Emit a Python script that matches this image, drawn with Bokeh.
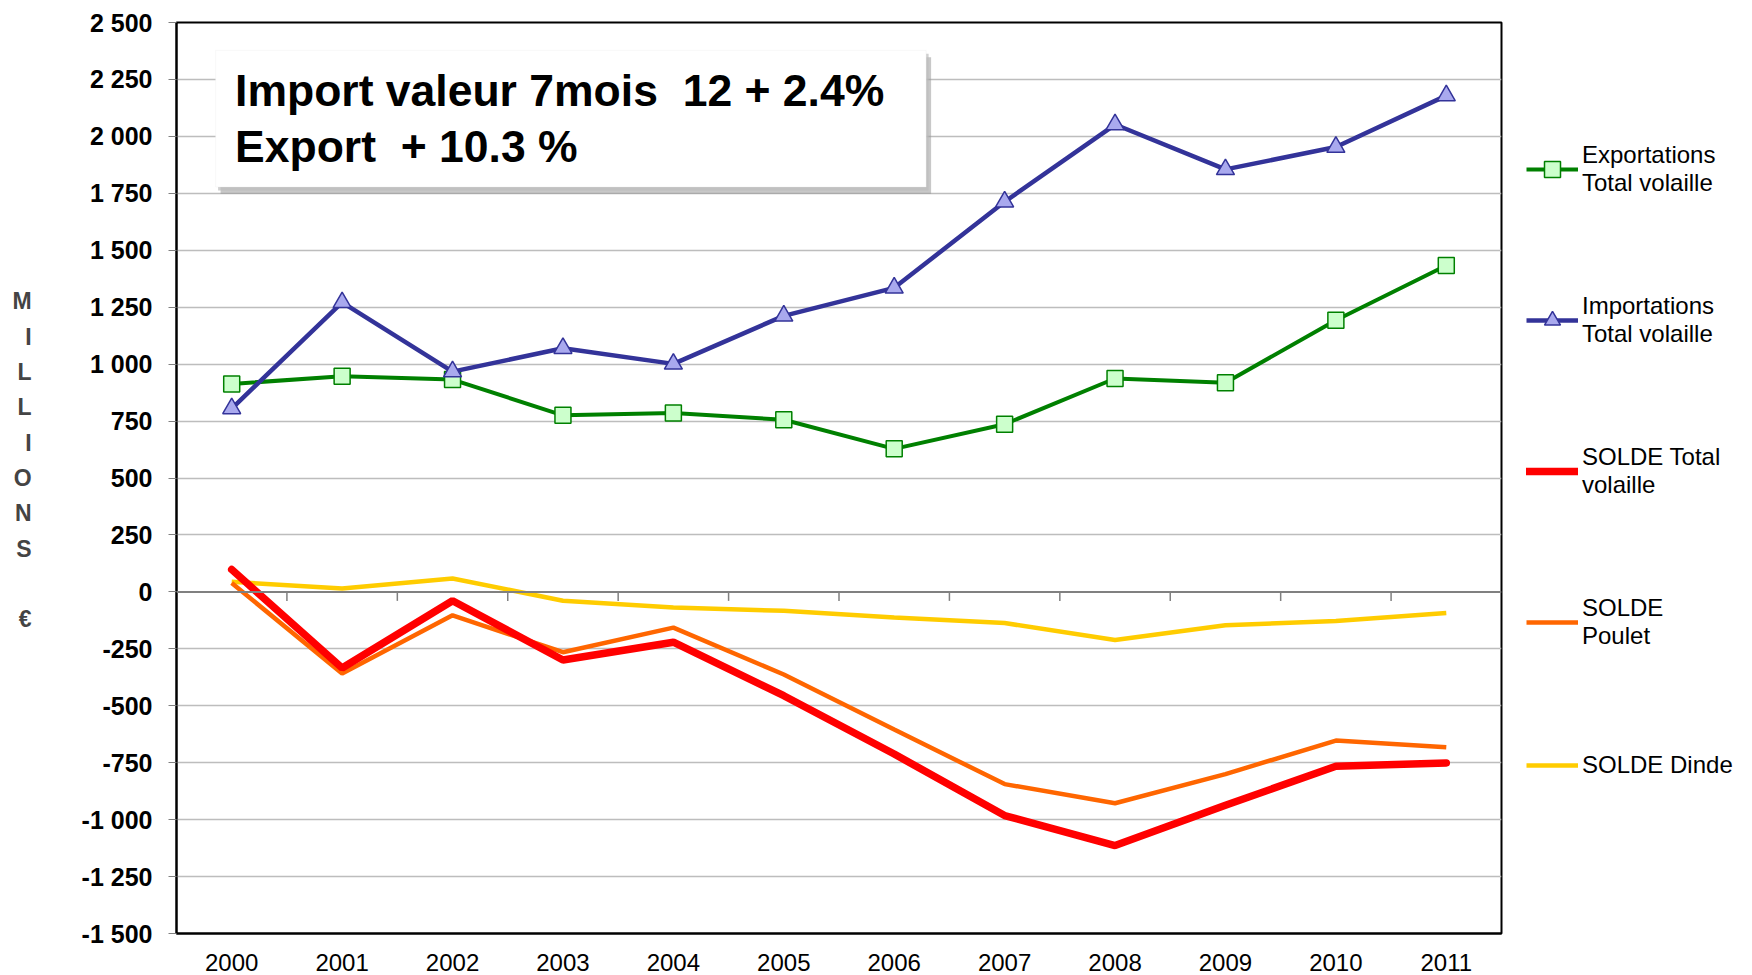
import numpy as np
from bokeh.plotting import figure
from bokeh.layouts import row
from bokeh.models import (Range1d, FixedTicker, Legend, LegendItem, Span,
                          BoxAnnotation, Label, ColumnDataSource)
from bokeh.embed import file_html
from bokeh.resources import INLINE
from bokeh.core.properties import value

# ---------------- data ----------------
years = [2000, 2001, 2002, 2003, 2004, 2005, 2006, 2007, 2008, 2009, 2010, 2011]
exports = [913, 947, 932, 775, 785, 756, 628, 736, 937, 918, 1193, 1433]
imports = [805, 1271, 967, 1070, 1001, 1212, 1335, 1713, 2052, 1855, 1953, 2179]
solde_total = [98, -334, -39, -299, -221, -456, -712, -982, -1114, -937, -766, -751]
solde_poulet = [39, -358, -103, -265, -157, -363, -604, -844, -928, -800, -653, -682]
solde_dinde = [44, 15, 59, -39, -69, -83, -113, -137, -211, -147, -128, -93]

y_ticks = [-1500, -1250, -1000, -750, -500, -250, 0, 250, 500, 750, 1000,
           1250, 1500, 1750, 2000, 2250, 2500]
y_tick_labels = ["-1 500", "-1 250", "-1 000", "-750", "-500", "-250", "0",
                 "250", "500", "750", "1 000", "1 250", "1 500", "1 750",
                 "2 000", "2 250", "2 500"]
x_tick_labels = [str(y) for y in years]

series_labels = ["Exportations\nTotal volaille",
                 "Importations\nTotal volaille",
                 "SOLDE Total\nvolaille",
                 "SOLDE\nPoulet",
                 "SOLDE Dinde"]
annotation_lines = ["Import valeur 7mois\u00a0\u00a012 + 2.4%", "Export\u00a0\u00a0+ 10.3 %"]
y_axis_title = "M\nI\nL\nL\nI\nO\nN\nS\n\n€\n\u00a0"

# ---------------- styles ----------------
FONT = "Liberation Sans"
C_EXP, C_EXP_FILL = "#008000", "#ccffcc"
C_IMP, C_IMP_FILL = "#333399", "#a9a9ee"
C_TOT, C_POU, C_DIN = "#ff0000", "#ff6600", "#ffcc00"

# ---------------- main figure ----------------
W, H = 1506, 975
BL, BR, BT, BB = 176, 5, 22, 42
p = figure(width=W, height=H,
           x_range=Range1d(1999.5, 2011.5), y_range=Range1d(-1500, 2500),
           output_backend="svg", toolbar_location=None,
           min_border_left=BL, min_border_right=BR,
           min_border_top=BT, min_border_bottom=BB)
p.background_fill_color = "white"
p.border_fill_color = "white"
p.outline_line_color = "black"
p.outline_line_width = 2

frame_w = W - BL - BR
frame_h = H - BT - BB
px_per_unit_y = frame_h / 4000.0
px_per_unit_x = frame_w / 12.0

# grid
p.xgrid.visible = False
p.ygrid.ticker = FixedTicker(ticks=[t for t in y_ticks if t != 0])
p.ygrid.grid_line_color = "#bdbdbd"
p.ygrid.grid_line_width = 1.5

# y axis
ya = p.yaxis[0]
ya.ticker = FixedTicker(ticks=y_ticks)
ya.major_label_overrides = {t: l for t, l in zip(y_ticks, y_tick_labels)}
ya.major_label_text_font = FONT
ya.major_label_text_font_style = "bold"
ya.major_label_text_font_size = "25px"
ya.major_label_text_color = "black"
ya.major_tick_in = 0
ya.major_tick_out = 8
ya.minor_tick_line_color = None
ya.major_tick_line_color = "#808080"
ya.axis_line_color = "black"
ya.axis_line_width = 2
ya.major_label_standoff = 16
ya.axis_label = y_axis_title
ya.axis_label_text_font = FONT
ya.axis_label_text_font_style = "bold"
ya.axis_label_text_font_size = "23px"
ya.axis_label_text_line_height = 1.36
ya.axis_label_orientation = "horizontal"
ya.axis_label_standoff = 47

# x axis
xa = p.xaxis[0]
xa.ticker = FixedTicker(ticks=years)
xa.major_label_overrides = {yv: l for yv, l in zip(years, x_tick_labels)}
xa.major_label_text_font = FONT
xa.major_label_text_font_size = "24px"
xa.major_label_text_color = "black"
xa.major_tick_in = 0
xa.major_tick_out = 0
xa.minor_tick_line_color = None
xa.axis_line_color = "black"
xa.axis_line_width = 2
xa.major_label_standoff = 20

# zero line with category separators
p.add_layout(Span(location=0, dimension="width", line_color="#808080", line_width=2))
tick_len = 9 / px_per_unit_y
bounds = [y + 0.5 for y in years[:-1]]
p.segment(x0=bounds, y0=[0] * len(bounds), x1=bounds, y1=[-tick_len] * len(bounds),
          line_color="#808080", line_width=1.5)

# annotation box with shadow
bx0, bx1, by0, by1 = 1999.854, 2006.289, 1778, 2378
dx, dy = 5 / px_per_unit_x, 7 / px_per_unit_y
p.add_layout(BoxAnnotation(left=bx0 + dx, right=bx1 + dx, bottom=by0 - dy, top=by1 - dy,
                           fill_color="#9a9a9a", fill_alpha=0.55, line_color=None))
p.add_layout(BoxAnnotation(left=bx0 + dx * 0.5, right=bx1 + dx * 0.5, bottom=by0 - dy * 0.5,
                           top=by1 - dy * 0.5,
                           fill_color="#bcbcbc", fill_alpha=0.7, line_color=None))
p.add_layout(BoxAnnotation(left=bx0, right=bx1, bottom=by0, top=by1,
                           fill_color="white", fill_alpha=1.0, line_color="#e8e8e8",
                           line_width=1))
for txt, yv in zip(annotation_lines, [2201, 1954]):
    p.add_layout(Label(x=2000.03, y=yv, text=txt, text_font=FONT,
                       text_font_style="bold", text_font_size="44.5px",
                       text_baseline="middle", text_align="left", text_color="black"))

# series
src = ColumnDataSource(dict(x=years, exp=exports, imp=imports, st=solde_total,
                            sp=solde_poulet, sd=solde_dinde))
p.line("x", "sd", source=src, line_color=C_DIN, line_width=4.5)
p.line("x", "sp", source=src, line_color=C_POU, line_width=4.5)
p.line("x", "st", source=src, line_color=C_TOT, line_width=7.5, line_cap="round")
p.line("x", "exp", source=src, line_color=C_EXP, line_width=4)
p.scatter("x", "exp", source=src, marker="square", size=16,
          fill_color=C_EXP_FILL, line_color=C_EXP, line_width=1.5)
p.line("x", "imp", source=src, line_color=C_IMP, line_width=4.5)
p.scatter("x", "imp", source=src, marker="triangle", size=18,
          fill_color=C_IMP_FILL, line_color=C_IMP, line_width=1.5)

# ---------------- legend panel (separate figure) ----------------
LW = 1752 - W
q = figure(width=LW, height=H, x_range=Range1d(0, 1), y_range=Range1d(0, 1),
           output_backend="svg", toolbar_location=None,
           min_border_left=0, min_border_right=0, min_border_top=0, min_border_bottom=0)
q.axis.visible = False
q.grid.visible = False
q.outline_line_color = None
# off-screen placeholder data so that the legend swatches take the styles
offscreen = ColumnDataSource(dict(x=[5, 6], y=[5, 6]))
l_el = q.line("x", "y", source=offscreen, line_color=C_EXP, line_width=4)
l_es = q.scatter("x", "y", source=offscreen, marker="square", size=16,
                 fill_color=C_EXP_FILL, line_color=C_EXP, line_width=1.5)
l_il = q.line("x", "y", source=offscreen, line_color=C_IMP, line_width=4.5)
l_is = q.scatter("x", "y", source=offscreen, marker="triangle", size=16,
                 fill_color=C_IMP_FILL, line_color=C_IMP, line_width=1.5)
l_t = q.line("x", "y", source=offscreen, line_color=C_TOT, line_width=7.5, line_cap="round")
l_p = q.line("x", "y", source=offscreen, line_color=C_POU, line_width=4.5)
l_d = q.line("x", "y", source=offscreen, line_color=C_DIN, line_width=4.5)

legend = Legend(items=[
    LegendItem(label=series_labels[0], renderers=[l_el, l_es]),
    LegendItem(label=series_labels[1], renderers=[l_il, l_is]),
    LegendItem(label=series_labels[2], renderers=[l_t]),
    LegendItem(label=series_labels[3], renderers=[l_p]),
    LegendItem(label=series_labels[4], renderers=[l_d]),
])
legend.location = (20, 148)
legend.background_fill_alpha = 0
legend.border_line_color = None
legend.label_text_font = FONT
legend.label_text_font_size = "24px"
legend.label_text_color = "black"
legend.label_text_line_height = 1.2
legend.glyph_width = 52
legend.glyph_height = 40
legend.label_standoff = 4
legend.spacing = 95
legend.margin = 0
legend.padding = 10
q.add_layout(legend)

layout = row(p, q)
html = file_html(layout, INLINE)
open("out.html", "w").write(html)
